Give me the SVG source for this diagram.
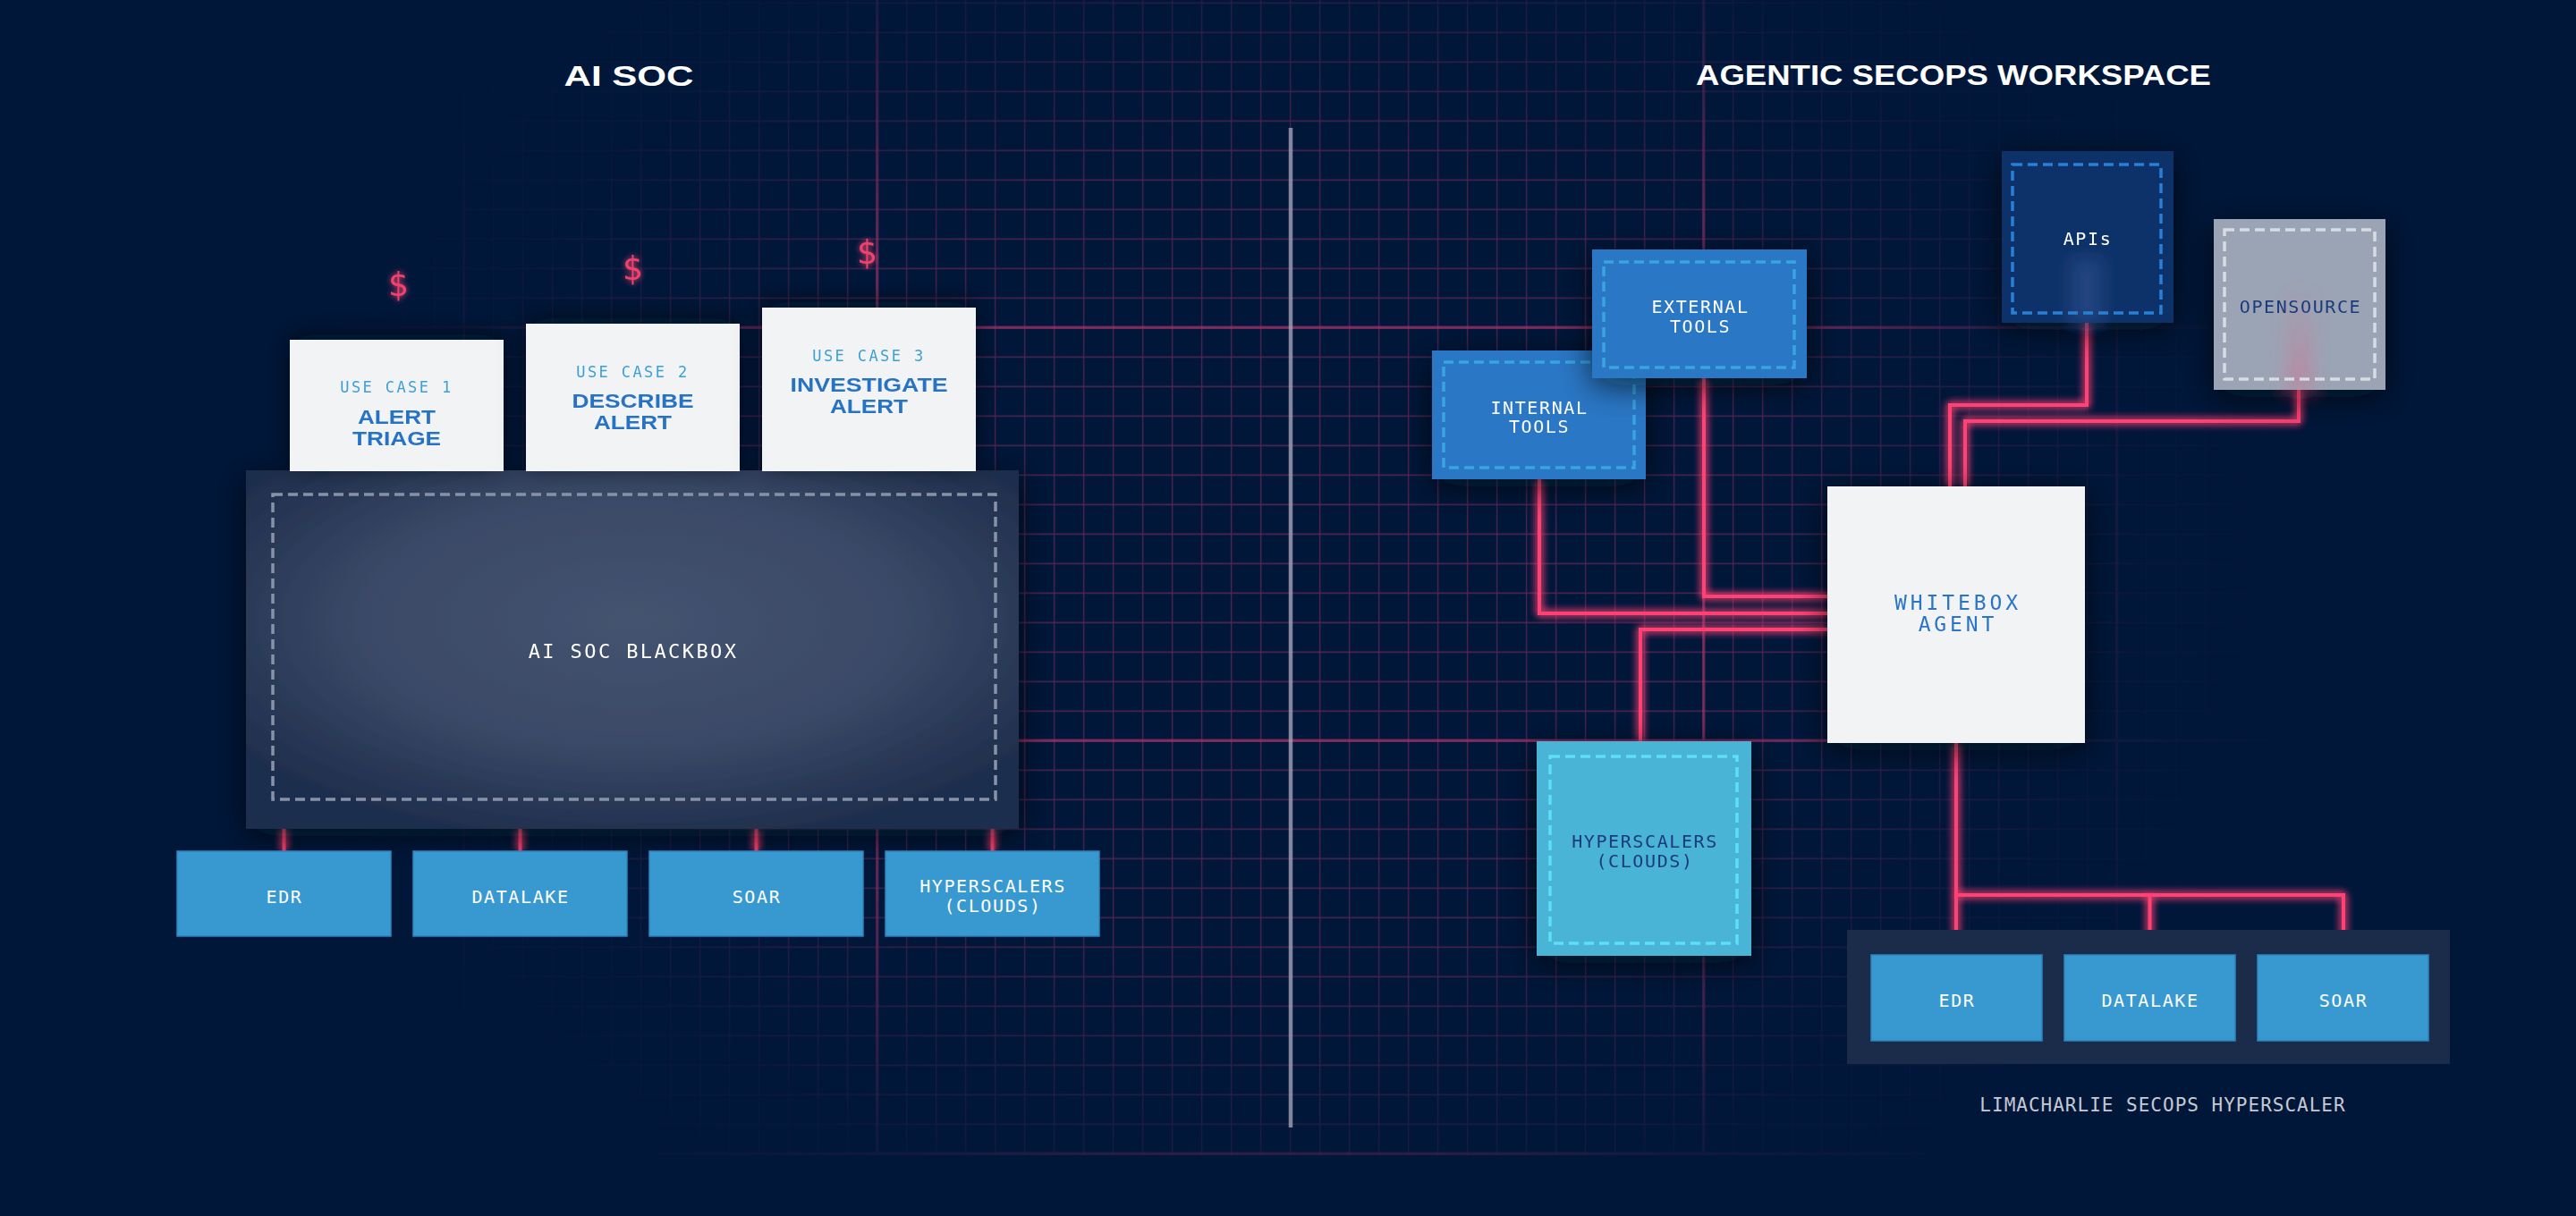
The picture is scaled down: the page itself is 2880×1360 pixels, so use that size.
<svg xmlns="http://www.w3.org/2000/svg" width="2880" height="1360" viewBox="0 0 2880 1360">
<defs>
<style>
.mono{font-family:"DejaVu Sans Mono","Liberation Mono",monospace}
.h1{font-family:"Liberation Sans",Arial,sans-serif;font-weight:700;font-size:31px;fill:#ffffff}
.uc{font-size:17px;letter-spacing:2.4px;fill:#3d9fd8}
.ut{font-family:"Liberation Sans",Arial,sans-serif;font-weight:700;font-size:22px;fill:#2873c6}
.card{fill:#f2f3f5}
.src{fill:#3799d0;stroke:#2d85bd;stroke-width:1.5}
.lbl{font-size:20px;letter-spacing:1.6px;fill:#ffffff}
.dk{fill:#1a3b7c}
.conn{fill:none;stroke:#ff4373;stroke-width:4;stroke-linejoin:miter}
.dash{fill:none;stroke-width:3.5;stroke-dasharray:11 6}
.minor{stroke:#d93b76;stroke-opacity:.42;stroke-width:1.3}
.major{stroke:#d93b76;stroke-opacity:.5;stroke-width:3.5;fill:none}
.dollar{font-size:38px;fill:#f0436f}
</style>
<pattern id="grid" patternUnits="userSpaceOnUse" x="1426.2" y="349.8" width="33" height="33">
<path d="M16.5,0 V33 M0,16.5 H33" class="minor"/>
</pattern>
<radialGradient id="fadeG" gradientUnits="userSpaceOnUse" cx="1443" cy="620" r="1150" gradientTransform="translate(1443 620) scale(1 0.8) translate(-1443 -620)">
<stop offset="0" stop-color="#fff" stop-opacity="1"/>
<stop offset="0.5" stop-color="#fff" stop-opacity="0.85"/>
<stop offset="0.82" stop-color="#fff" stop-opacity="0.12"/>
<stop offset="1" stop-color="#fff" stop-opacity="0"/>
</radialGradient>
<mask id="gridMask" maskUnits="userSpaceOnUse" x="0" y="0" width="2880" height="1360">
<rect x="0" y="0" width="2880" height="1292" fill="url(#fadeG)"/>
</mask>
<radialGradient id="bbG" cx="0.5" cy="0.42" r="0.62">
<stop offset="0" stop-color="#44536f"/>
<stop offset="0.55" stop-color="#3b4a67"/>
<stop offset="1" stop-color="#1f2e4d"/>
</radialGradient>
<linearGradient id="pinkStripe" x1="0" y1="0" x2="0" y2="1">
<stop offset="0" stop-color="#ff4a7c" stop-opacity="0"/>
<stop offset="1" stop-color="#ff4a7c" stop-opacity="0.3"/>
</linearGradient>
<filter id="soft" x="-100%" y="-20%" width="300%" height="140%">
<feGaussianBlur stdDeviation="9"/>
</filter>
<filter id="glow" filterUnits="userSpaceOnUse" x="0" y="0" width="2880" height="1360">
<feGaussianBlur in="SourceGraphic" stdDeviation="5" result="b"/>
<feMerge><feMergeNode in="b"/><feMergeNode in="b"/><feMergeNode in="SourceGraphic"/></feMerge>
</filter>
<filter id="dglow" x="-100%" y="-50%" width="300%" height="200%">
<feGaussianBlur in="SourceGraphic" stdDeviation="3" result="b"/>
<feMerge><feMergeNode in="b"/><feMergeNode in="SourceGraphic"/></feMerge>
</filter>
<filter id="shadow" x="-30%" y="-30%" width="160%" height="160%">
<feDropShadow dx="0" dy="8" stdDeviation="18" flood-color="#000714" flood-opacity="0.7"/>
</filter>
<filter id="cshadow" x="-30%" y="-30%" width="160%" height="160%">
<feDropShadow dx="0" dy="-6" stdDeviation="14" flood-color="#000714" flood-opacity="0.6"/>
</filter>
</defs>

<rect x="0" y="0" width="2880" height="1360" fill="#00173a"/>

<g id="grid-bg" mask="url(#gridMask)">
<rect x="0" y="0" width="2880" height="1292" fill="url(#grid)"/>
<path class="major" d="M0,366.3 H2880 M0,828.3 H2880 M0,1290.3 H2880 M518.7,0 V1292 M980.7,0 V1292 M1904.7,0 V1292 M2366.7,0 V1292"/>
</g>

<line id="divider" x1="1443" y1="143" x2="1443" y2="1261" stroke="#a8aabb" stroke-opacity="0.75" stroke-width="4.5"/>

<g id="titles">
<text class="h1" x="703" y="96" text-anchor="middle" textLength="145" lengthAdjust="spacingAndGlyphs">AI SOC</text>
<text class="h1" x="2184" y="95" text-anchor="middle" textLength="576" lengthAdjust="spacingAndGlyphs">AGENTIC SECOPS WORKSPACE</text>
</g>

<g id="dollars" filter="url(#dglow)">
<text class="mono dollar" x="445" y="331" text-anchor="middle">$</text>
<text class="mono dollar" x="707" y="313" text-anchor="middle">$</text>
<text class="mono dollar" x="969" y="295" text-anchor="middle">$</text>
</g>

<g id="connectors" filter="url(#glow)">
<path class="conn" d="M317.5,927 V952 M581.5,927 V952 M845.5,927 V952 M1109.5,927 V952"/>
<path class="conn" d="M1721,536 V686 H2043"/>
<path class="conn" d="M1905,423 V667 H2043"/>
<path class="conn" d="M1834,829 V704 H2043"/>
<path class="conn" d="M2333,361 V453 H2180 V544"/>
<path class="conn" d="M2570,436 V471 H2197 V544"/>
<path class="conn" d="M2187,831 V1068 M2187,1001 H2620 V1068 M2403.5,1001 V1068"/>
</g>

<g id="blackbox" filter="url(#shadow)">
<rect x="275" y="526" width="864" height="401" fill="url(#bbG)"/>
<rect class="dash" x="305" y="553" width="808" height="341" stroke="#8792a8" stroke-width="3"/>
<text class="mono" x="708" y="736" text-anchor="middle" font-size="22" letter-spacing="2.4" fill="#ffffff">AI SOC BLACKBOX</text>
</g>

<g id="usecase1" filter="url(#cshadow)">
<rect class="card" x="324" y="380" width="239" height="147"/>
<text class="mono uc" x="443.5" y="439" text-anchor="middle">USE CASE 1</text>
<text class="ut" x="443.5" y="474" text-anchor="middle" textLength="87" lengthAdjust="spacingAndGlyphs">ALERT</text>
<text class="ut" x="443.5" y="498" text-anchor="middle" textLength="99" lengthAdjust="spacingAndGlyphs">TRIAGE</text>
</g>
<g id="usecase2" filter="url(#cshadow)">
<rect class="card" x="588" y="362" width="239" height="165"/>
<text class="mono uc" x="707.5" y="422" text-anchor="middle">USE CASE 2</text>
<text class="ut" x="707.5" y="456" text-anchor="middle" textLength="136" lengthAdjust="spacingAndGlyphs">DESCRIBE</text>
<text class="ut" x="707.5" y="480" text-anchor="middle" textLength="87" lengthAdjust="spacingAndGlyphs">ALERT</text>
</g>
<g id="usecase3" filter="url(#cshadow)">
<rect class="card" x="852" y="344" width="239" height="183"/>
<text class="mono uc" x="971.5" y="404" text-anchor="middle">USE CASE 3</text>
<text class="ut" x="971.5" y="438" text-anchor="middle" textLength="176" lengthAdjust="spacingAndGlyphs">INVESTIGATE</text>
<text class="ut" x="971.5" y="462" text-anchor="middle" textLength="87" lengthAdjust="spacingAndGlyphs">ALERT</text>
</g>

<g id="left-edr">
<rect class="src" x="198" y="952" width="239" height="95"/>
<text class="mono lbl" x="318" y="1010" text-anchor="middle">EDR</text>
</g>
<g id="left-datalake">
<rect class="src" x="462" y="952" width="239" height="95"/>
<text class="mono lbl" x="582" y="1010" text-anchor="middle">DATALAKE</text>
</g>
<g id="left-soar">
<rect class="src" x="726" y="952" width="239" height="95"/>
<text class="mono lbl" x="846" y="1010" text-anchor="middle">SOAR</text>
</g>
<g id="left-hyperscalers">
<rect class="src" x="990" y="952" width="239" height="95"/>
<text class="mono lbl" x="1110" y="998" text-anchor="middle">HYPERSCALERS</text>
<text class="mono lbl" x="1110" y="1020" text-anchor="middle">(CLOUDS)</text>
</g>

<g id="internal-tools" filter="url(#shadow)">
<rect x="1601" y="392" width="239" height="144" fill="#2a77c6"/>
<rect class="dash" x="1614" y="405" width="213" height="118" stroke="#38a5df"/>
<text class="mono lbl" x="1721" y="463" text-anchor="middle">INTERNAL</text>
<text class="mono lbl" x="1721" y="484" text-anchor="middle">TOOLS</text>
</g>
<g id="external-tools" filter="url(#shadow)">
<rect x="1780" y="279" width="240" height="144" fill="#2a77c6"/>
<rect class="dash" x="1793" y="293" width="213" height="118" stroke="#38a5df"/>
<text class="mono lbl" x="1901" y="350" text-anchor="middle">EXTERNAL</text>
<text class="mono lbl" x="1901" y="372" text-anchor="middle">TOOLS</text>
</g>
<g id="apis" filter="url(#shadow)">
<rect x="2238" y="169" width="192" height="192" fill="#0f336a"/>
<rect x="2316" y="290" width="34" height="71" fill="#3a5a9a" opacity="0.45" filter="url(#soft)"/>
<rect class="dash" x="2250" y="184" width="166" height="166" stroke="#2b7fd5"/>
<text class="mono lbl" x="2334" y="274" text-anchor="middle">APIs</text>
</g>
<g id="opensource" filter="url(#shadow)">
<rect x="2475" y="245" width="192" height="191" fill="#9ba4b4"/>
<rect x="2556" y="320" width="30" height="116" fill="url(#pinkStripe)" filter="url(#soft)"/>
<rect class="dash" x="2487" y="257" width="168" height="167" stroke="#d8dce4"/>
<text class="mono lbl dk" x="2572" y="350" text-anchor="middle" font-size="21" letter-spacing="1">OPENSOURCE</text>
</g>
<g id="whitebox-agent" filter="url(#shadow)">
<rect class="card" x="2043" y="544" width="288" height="287"/>
<text class="mono" x="2189" y="682" text-anchor="middle" font-size="23" letter-spacing="3.9" fill="#2a74c8">WHITEBOX</text>
<text class="mono" x="2189" y="706" text-anchor="middle" font-size="23" letter-spacing="3.9" fill="#2a74c8">AGENT</text>
</g>
<g id="hyperscalers" filter="url(#shadow)">
<rect x="1718" y="829" width="240" height="240" fill="#4ab4d5"/>
<rect class="dash" x="1733" y="846" width="209" height="209" stroke="#5ddff5"/>
<text class="mono lbl dk" x="1839" y="948" text-anchor="middle">HYPERSCALERS</text>
<text class="mono lbl dk" x="1839" y="970" text-anchor="middle">(CLOUDS)</text>
</g>

<g id="limacharlie">
<rect x="2065" y="1040" width="674" height="150" fill="#1b2c4b"/>
<g id="lc-edr">
<rect class="src" x="2092" y="1068" width="191" height="96"/>
<text class="mono lbl" x="2188" y="1126" text-anchor="middle">EDR</text>
</g>
<g id="lc-datalake">
<rect class="src" x="2308" y="1068" width="191" height="96"/>
<text class="mono lbl" x="2404" y="1126" text-anchor="middle">DATALAKE</text>
</g>
<g id="lc-soar">
<rect class="src" x="2524" y="1068" width="191" height="96"/>
<text class="mono lbl" x="2620" y="1126" text-anchor="middle">SOAR</text>
</g>
<text class="mono" x="2418" y="1243" text-anchor="middle" font-size="21" letter-spacing="1" fill="#c5c9d3">LIMACHARLIE SECOPS HYPERSCALER</text>
</g>
</svg>
